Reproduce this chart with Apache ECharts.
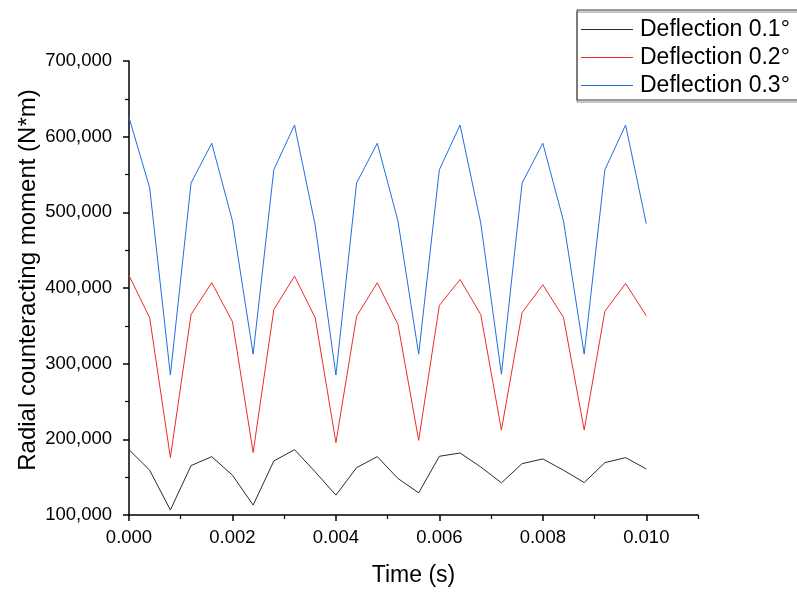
<!DOCTYPE html>
<html>
<head>
<meta charset="utf-8">
<script src="https://cdn.jsdelivr.net/npm/echarts@6/dist/echarts.min.js"></script>
<style>
  html, body { margin: 0; padding: 0; background: #fff; }
  #chart { width: 797px; height: 592px; }
</style>
</head>
<body>
<div id="chart"></div>
<script>
// Sampling instants (s)
const time = [0, 0.0004, 0.0008, 0.0012, 0.0016, 0.0020, 0.0024, 0.0028, 0.0032, 0.0036,
              0.0040, 0.0044, 0.0048, 0.0052, 0.0056, 0.0060, 0.0064, 0.0068, 0.0072, 0.0076,
              0.0080, 0.0084, 0.0088, 0.0092, 0.0096, 0.0100];

// Radial counteracting moment (N*m) for each deflection angle
const deflection01 = [186300, 159200, 106600, 165300, 177100, 152600, 113100, 171400, 186300, 157000,
                      126300, 162600, 177100, 148200, 129300, 177600, 182000, 163500, 142500, 167900,
                      174100, 159200, 142900, 169200, 175800, 160900];
const deflection02 = [416500, 360600, 176000, 365000, 407000, 355400, 182600, 371500, 415700, 360600,
                      195700, 362700, 407000, 351900, 198700, 377000, 411300, 365000, 212200, 367600,
                      404300, 361000, 212400, 369300, 406000, 363300];
const deflection03 = [625500, 532300, 285000, 538800, 591300, 488500, 312600, 556300, 615400, 482800,
                      285000, 538800, 591300, 488500, 312600, 556300, 615400, 486000, 286000, 538800,
                      591300, 488500, 312600, 556300, 615400, 485000];

const seriesNames = ['Deflection 0.1°', 'Deflection 0.2°', 'Deflection 0.3°'];
const seriesColors = ['#2b2b2b', '#f02a2a', '#1f6fe0'];

// Axis ticks
const xMajorTicks = [0, 0.002, 0.004, 0.006, 0.008, 0.010];
const xMinorTicks = [0.001, 0.003, 0.005, 0.007, 0.009, 0.011];
const xRange = [0, 0.011];
const yRange = [100000, 700000];
const yStep = 100000;

const FONT = '"Liberation Sans", Arial, sans-serif';
const values = [deflection01, deflection02, deflection03];

const chart = echarts.init(document.getElementById('chart'), null, { renderer: 'canvas' });

chart.setOption({
  backgroundColor: '#fff',
  animation: false,
  grid: { left: 129, right: 99, top: 61, bottom: 73, containLabel: false },
  legend: {
    orient: 'vertical',
    left: 577,
    top: 10,
    padding: [8, 30, 3, 4],
    itemGap: 5,
    itemWidth: 52,
    itemHeight: 1,
    icon: 'rect',
    borderColor: '#333',
    borderWidth: 1,
    shadowColor: 'rgba(0,0,0,0.45)',
    shadowOffsetX: 0,
    shadowOffsetY: 2,
    shadowBlur: 0,
    textStyle: { fontFamily: FONT, fontSize: 23, color: '#000', padding: [0, 0, 0, 2] },
    data: seriesNames
  },
  xAxis: [
    {
      type: 'value',
      min: xRange[0],
      max: xRange[1],
      interval: 0.002,
      name: 'Time (s)',
      nameLocation: 'middle',
      nameGap: 49,
      nameMoveOverlap: false,
      nameTextStyle: { fontFamily: FONT, fontSize: 23, color: '#000' },
      axisLine: { show: true, onZero: false, lineStyle: { color: '#000', width: 1.5 } },
      axisTick: { show: true, inside: false, length: 6, customValues: xMajorTicks,
                  lineStyle: { color: '#000', width: 1.5 } },
      axisLabel: { show: true, margin: 13, customValues: xMajorTicks,
                   fontFamily: FONT, fontSize: 18.5, color: '#000',
                   formatter: v => v.toFixed(3) },
      splitLine: { show: false }
    },
    {
      type: 'value',
      min: xRange[0],
      max: xRange[1],
      interval: 0.001,
      position: 'bottom',
      axisLine: { show: false },
      axisTick: { show: true, inside: false, length: 4, customValues: xMinorTicks,
                  lineStyle: { color: '#000', width: 1.2 } },
      axisLabel: { show: false },
      splitLine: { show: false }
    }
  ],
  yAxis: {
    type: 'value',
    min: yRange[0],
    max: yRange[1],
    interval: yStep,
    name: 'Radial counteracting moment (N*m)',
    nameLocation: 'middle',
    nameRotate: 90,
    nameGap: 89,
    nameMoveOverlap: false,
    nameTextStyle: { fontFamily: FONT, fontSize: 24, color: '#000', padding: [0, 0, 0, 16] },
    axisLine: { show: true, onZero: false, lineStyle: { color: '#000', width: 1.5 } },
    axisTick: { show: true, inside: false, length: 6, lineStyle: { color: '#000', width: 1.5 } },
    minorTick: { show: true, splitNumber: 2, length: 4, lineStyle: { color: '#000', width: 1.2 } },
    axisLabel: { margin: 17, fontFamily: FONT, fontSize: 18.5, color: '#000',
                 formatter: v => v.toLocaleString('en-US') },
    splitLine: { show: false },
    minorSplitLine: { show: false }
  },
  series: seriesNames.map((name, k) => ({
    name: name,
    type: 'line',
    xAxisIndex: 0,
    data: time.map((t, i) => [t, values[k][i]]),
    showSymbol: false,
    symbol: 'none',
    lineStyle: { color: seriesColors[k], width: 1 },
    itemStyle: { color: seriesColors[k] },
    z: 3 + k
  }))
});
</script>
</body>
</html>
